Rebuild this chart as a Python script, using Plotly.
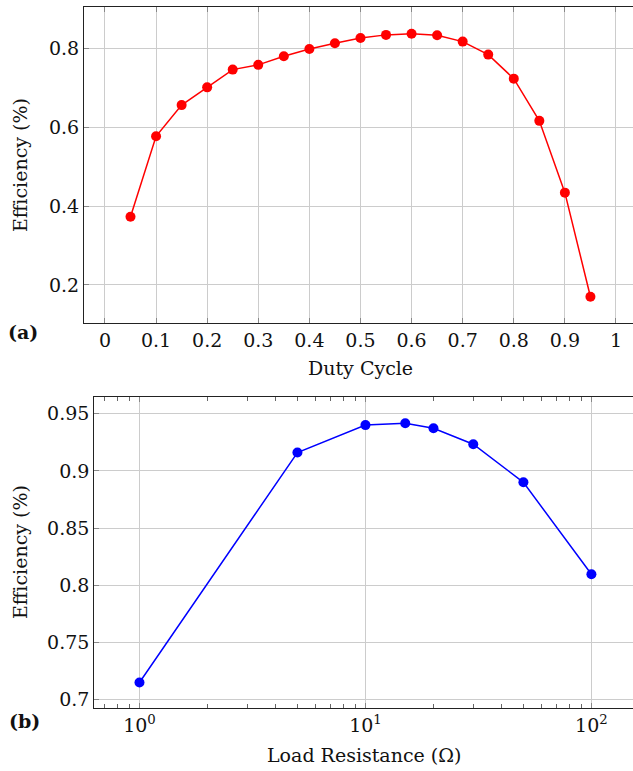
import plotly.graph_objects as go

# ---- data ----
duty_cycle = [0.05, 0.10, 0.15, 0.20, 0.25, 0.30, 0.35, 0.40, 0.45, 0.50,
              0.55, 0.60, 0.65, 0.70, 0.75, 0.80, 0.85, 0.90, 0.95]
eff_duty = [0.373, 0.577, 0.656, 0.701, 0.746, 0.758, 0.780, 0.798, 0.813, 0.826,
            0.834, 0.837, 0.833, 0.817, 0.784, 0.723, 0.616, 0.434, 0.170]

load_res = [1, 5, 10, 15, 20, 30, 50, 100]
eff_load = [0.715, 0.916, 0.940, 0.9416, 0.9372, 0.9233, 0.890, 0.8096]

duty_ticks = [0, 0.1, 0.2, 0.3, 0.4, 0.5, 0.6, 0.7, 0.8, 0.9, 1]
duty_ticktext = ["0", "0.1", "0.2", "0.3", "0.4", "0.5", "0.6", "0.7", "0.8", "0.9", "1"]
eff_ticks_a = [0.2, 0.4, 0.6, 0.8]
eff_ticktext_a = ["0.2", "0.4", "0.6", "0.8"]
eff_ticks_b = [0.7, 0.75, 0.8, 0.85, 0.9, 0.95]
eff_ticktext_b = ["0.7", "0.75", "0.8", "0.85", "0.9", "0.95"]
load_ticks = [1, 10, 100]
load_ticktext = ["10<sup>0</sup>", "10<sup>1</sup>", "10<sup>2</sup>"]
load_minor = [0.7, 0.8, 0.9, 2, 3, 4, 5, 6, 7, 8, 9,
              20, 30, 40, 50, 60, 70, 80, 90]

W, H = 633, 771
def px(x):
    return x / W
def py(y):
    return 1 - y / H

FONT = "DejaVu Serif, Liberation Serif, serif"
FS = 19
GRID = "#cccccc"
AXC = "#222222"

fig = go.Figure()
fig.add_trace(go.Scatter(x=duty_cycle, y=eff_duty, mode="lines+markers",
                         line=dict(color="#ff0000", width=1.5),
                         marker=dict(color="#ff0000", size=10),
                         xaxis="x", yaxis="y", showlegend=False))
fig.add_trace(go.Scatter(x=load_res, y=eff_load, mode="lines+markers",
                         line=dict(color="#0000ff", width=1.5),
                         marker=dict(color="#0000ff", size=10),
                         xaxis="x2", yaxis="y2", showlegend=False))

common = dict(showgrid=True, gridcolor=GRID, gridwidth=1, zeroline=False,
              showline=True, linecolor=AXC, linewidth=1.2, automargin=False,
              ticks="inside", ticklen=5, tickcolor="#888888",
              tickfont=dict(family=FONT, size=FS, color="#111111"))

fig.update_layout(
    width=W, height=H,
    margin=dict(l=0, r=0, t=0, b=0),
    paper_bgcolor="white", plot_bgcolor="white",
    font=dict(family=FONT, size=FS, color="#111111"),
    xaxis=dict(domain=[px(84), 1], range=[-0.041, 1.0333],
               tickvals=duty_ticks, ticktext=duty_ticktext,
               mirror="ticks", anchor="y", **common),
    yaxis=dict(domain=[py(323), py(7)], range=[0.1035, 0.9047],
               tickvals=eff_ticks_a, ticktext=eff_ticktext_a,
               anchor="x", **common),
    xaxis2=dict(domain=[px(94.3), 1], type="log", range=[-0.2, 2.184],
                tickvals=load_ticks, ticktext=load_ticktext,
                mirror="ticks", anchor="y2",
                minor=dict(ticks="inside", ticklen=4, tickcolor="#666666",
                           tickvals=load_minor, showgrid=False),
                **common),
    yaxis2=dict(domain=[py(707.7), py(397.3)], range=[0.693, 0.9643],
                tickvals=eff_ticks_b, ticktext=eff_ticktext_b,
                anchor="x2", **common),
)

ann_font = dict(family=FONT, size=FS, color="#111111")
annotations = [
    dict(text="Efficiency (%)", x=px(20), y=py(165), textangle=-90),
    dict(text="Efficiency (%)", x=px(20), y=py(552), textangle=-90),
    dict(text="Duty Cycle", x=px(360), y=py(368)),
    dict(text="Load Resistance (Ω)", x=px(364), y=py(755)),
    dict(text="<b>(a)</b>", x=px(23), y=py(332)),
    dict(text="<b>(b)</b>", x=px(24), y=py(721)),
]
for a in annotations:
    fig.add_annotation(xref="paper", yref="paper", showarrow=False,
                       xanchor="center", yanchor="middle", font=ann_font, **a)

fig.write_html("out.html", config={"displayModeBar": False},
               post_script="document.body.style.margin='0';document.body.style.overflow='hidden';")
